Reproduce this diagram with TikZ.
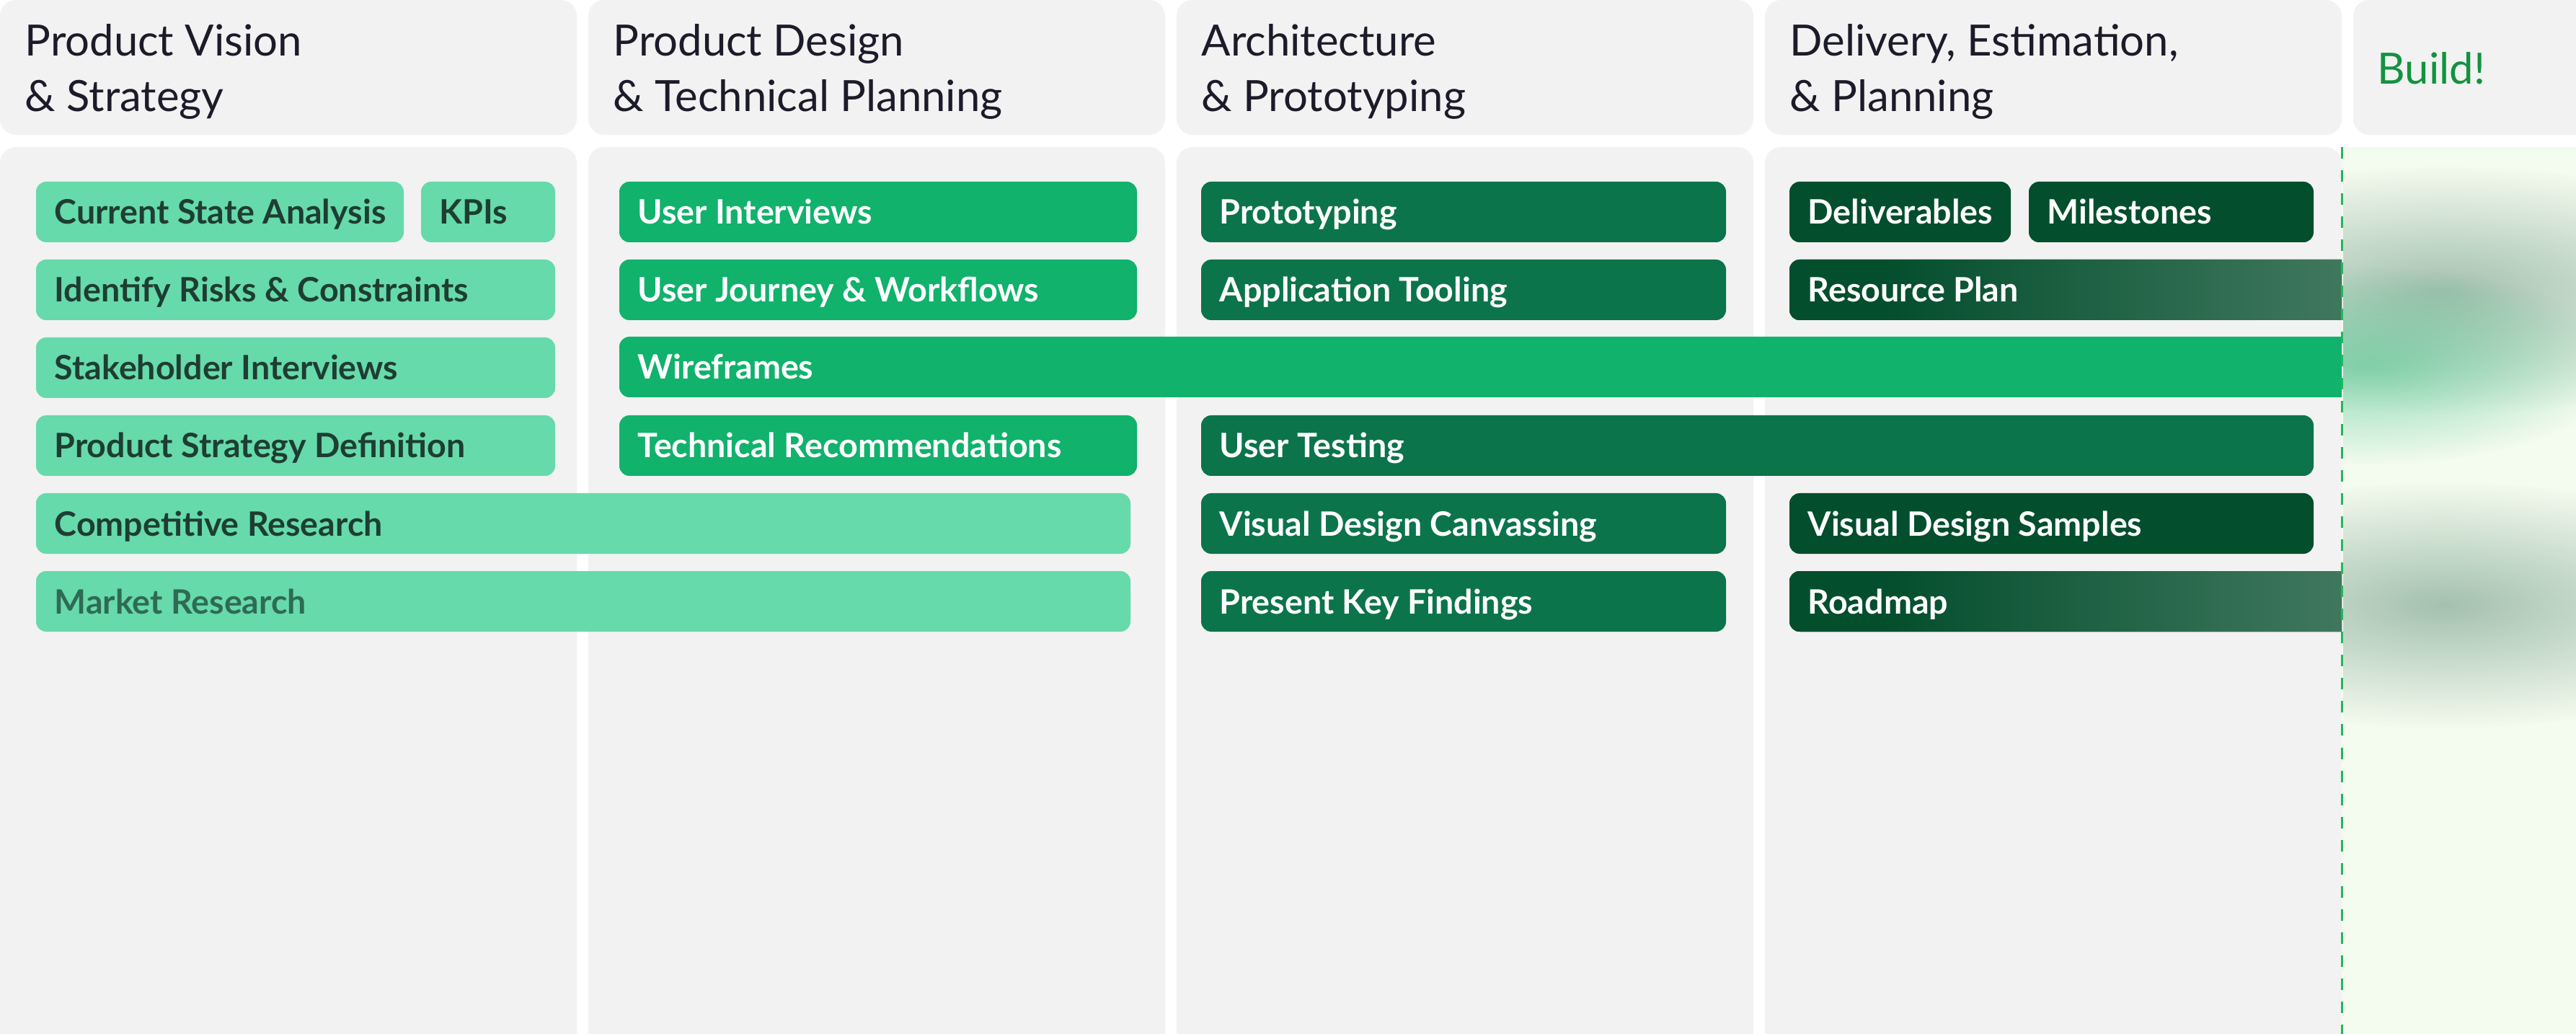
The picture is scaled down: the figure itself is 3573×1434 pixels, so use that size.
\documentclass[tikz,border=0pt]{standalone}
\usepackage{fontspec}
\setmainfont{Lato}
\usetikzlibrary{fadings}
\definecolor{panelgray}{HTML}{F2F2F2}
\definecolor{hdrtext}{HTML}{1C1B29}
\definecolor{buildgreen}{HTML}{13923F}
\definecolor{buildbg}{HTML}{F4FBEF}
\definecolor{dashgreen}{HTML}{22B85A}
\definecolor{c1fill}{HTML}{66DAAA}
\definecolor{c1text}{HTML}{1E3D33}
\definecolor{c1mtext}{HTML}{2F6A55}
\definecolor{c2fill}{HTML}{10B26C}
\definecolor{c3fill}{HTML}{0B744B}
\definecolor{c4fill}{HTML}{034E2D}
\definecolor{c4light}{HTML}{3F775D}
\pgfdeclarehorizontalshading{resgrad}{100bp}{color(0bp)=(c4fill); color(33bp)=(c4fill); color(72bp)=(c4light); color(100bp)=(c4light)}
\tikzfading[name=glowfade, inner color=transparent!0, outer color=transparent!100]
\newcommand{\taskbar}[6]{%
  \fill[#5, rounded corners=0.14cm] ({#2},{#3}) rectangle ({#4},{#3+84});
  \node[#5txt, anchor=base west] (#1) at ({#2+25},{#3+59}) {#6};}
\newcommand{\openbar}[6]{%
  \begin{scope}
  \clip ({#2-2},{#3-2}) rectangle ({#4},{#3+86});
  \fill[#5, rounded corners=0.14cm] ({#2},{#3}) rectangle ({#4+40},{#3+84});
  \end{scope}
  \node[#5txt, anchor=base west] (#1) at ({#2+25},{#3+59}) {#6};}
\begin{document}
\begin{tikzpicture}[x=0.01cm,y=-0.01cm,
  panel/.style={fill=panelgray, rounded corners=0.22cm},
  hdr/.style={anchor=base west, align=left, inner sep=0pt, text=hdrtext, font=\fontsize{17pt}{21.9pt}\selectfont},
  bartxt/.style={inner sep=0pt, font=\bfseries\fontsize{13.25pt}{15pt}\selectfont},
  c1/.style={fill=c1fill}, c1txt/.style={bartxt, text=c1text},
  c1m/.style={fill=c1fill}, c1mtxt/.style={bartxt, text=c1mtext},
  c2/.style={fill=c2fill}, c2txt/.style={bartxt, text=white},
  c3/.style={fill=c3fill}, c3txt/.style={bartxt, text=white},
  c4/.style={fill=c4fill}, c4txt/.style={bartxt, text=white},
  c4g/.style={shading=resgrad}, c4gtxt/.style={bartxt, text=white},
  glow/.style={path fading=glowfade, fill opacity=0.44}
]
\useasboundingbox (0,0) rectangle (3573,1434);
% panels
\foreach \i in {0,1,2,3} {
  \fill[panel] ({\i*816},0) rectangle ({\i*816+800},187);
  \fill[panel] ({\i*816},204) rectangle ({\i*816+800},1520);
}
\fill[panel] (3264,0) rectangle (3680,187);
\fill[buildbg] (3248,204) rectangle (3680,1520);
% glows
\begin{scope}
  \clip (3250,204) rectangle (3680,1520);
  \fill[c4light, glow] (2900,230) rectangle (3880,575);
  \fill[c2fill, glow] (2920,370) rectangle (3640,645);
  \fill[c4light, glow] (2900,668) rectangle (3880,1010);
\end{scope}
% headers
\node[hdr] (h1) at (34,155) {Product Vision\\\& Strategy};
\node[hdr] (h2) at (850,155) {Product Design\\\& Technical Planning};
\node[hdr] (h3) at (1666,155) {Architecture\\\& Prototyping};
\node[hdr] (h4) at (2482,155) {Delivery, Estimation,\\\& Planning};
\node[hdr, text=buildgreen] (h5) at (3297,117) {Build!};
% column 1
\taskbar{csa}{50}{252}{560}{c1}{Current State Analysis}
\taskbar{kpi}{584}{252}{770}{c1}{KPIs}
\taskbar{risk}{50}{360}{770}{c1}{Identify Risks \& Constraints}
\taskbar{stake}{50}{468}{770}{c1}{Stakeholder Interviews}
\taskbar{psd}{50}{576}{770}{c1}{Product Strategy Definition}
\taskbar{comp}{50}{684}{1568}{c1}{Competitive Research}
\taskbar{mkt}{50}{792}{1568}{c1m}{Market Research}
% column 2
\taskbar{ui}{859}{252}{1577}{c2}{User Interviews}
\taskbar{uj}{859}{360}{1577}{c2}{User Journey \& Workflows}
\openbar{wf}{859}{467}{3248}{c2}{Wireframes}
\taskbar{tr}{859}{576}{1577}{c2}{Technical Recommendations}
% column 3
\taskbar{proto}{1666}{252}{2394}{c3}{Prototyping}
\taskbar{tool}{1666}{360}{2394}{c3}{Application Tooling}
\taskbar{ut}{1666}{576}{3209}{c3}{User Testing}
\taskbar{vdc}{1666}{684}{2394}{c3}{Visual Design Canvassing}
\taskbar{pkf}{1666}{792}{2394}{c3}{Present Key Findings}
% column 4
\taskbar{del}{2482}{252}{2789}{c4}{Deliverables}
\taskbar{mil}{2814}{252}{3209}{c4}{Milestones}
\openbar{rp}{2482}{360}{3248}{c4g}{Resource Plan}
\taskbar{vds}{2482}{684}{3209}{c4}{Visual Design Samples}
\openbar{rm}{2482}{792}{3248}{c4g}{Roadmap}
% build line
\coordinate (lt) at (3248,204);
\coordinate (lb) at (3248,1434);
\draw[dashgreen, line width=0.03cm, dash pattern=on 0.16cm off 0.16cm] (lt) -- (lb);
\end{tikzpicture}
\end{document}
